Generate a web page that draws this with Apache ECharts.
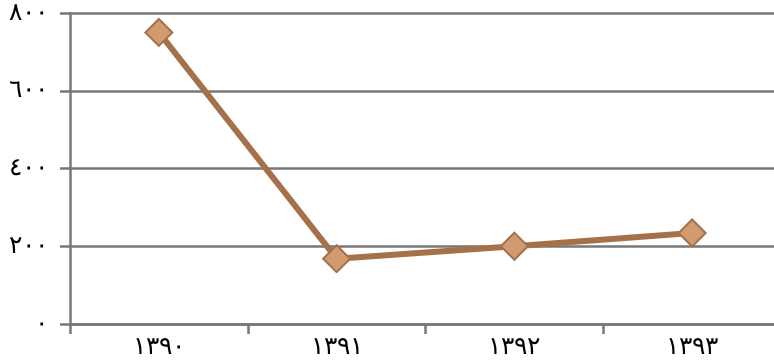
<!DOCTYPE html>
<html>
<head>
<meta charset="utf-8">
<script src="https://cdn.jsdelivr.net/npm/echarts@6/dist/echarts.min.js"></script>
<style>
html, body { margin: 0; padding: 0; background: #fff; overflow: hidden; }
#container { width: 781px; height: 364px; }
</style>
</head>
<body>
<div id="container"></div>
<script>
// سال‌ها و مقادیر
var years = ['١٣٩٠', '١٣٩١', '١٣٩٢', '١٣٩٣'];
var values = [750, 168, 200, 234];
var yTicks = ['٠', '٢٠٠', '٤٠٠', '٦٠٠', '٨٠٠'];

var dom = document.getElementById('container');
var myChart = echarts.init(dom);

var option = {
    animation: false,
    grid: { left: 70, right: 0, top: 13, bottom: 40, containLabel: false },
    xAxis: {
        type: 'category',
        data: years,
        boundaryGap: true,
        axisLine: { lineStyle: { color: '#777', width: 2.5 } },
        axisTick: { show: true, length: 10, lineStyle: { color: '#777', width: 2.5 } },
        axisLabel: { color: '#000', fontSize: 25, fontFamily: 'DejaVu Serif', margin: 11 }
    },
    yAxis: {
        type: 'value',
        min: 0,
        max: 800,
        interval: 200,
        axisLine: { show: true, lineStyle: { color: '#777', width: 2.5 } },
        axisTick: { show: true, length: 10, lineStyle: { color: '#777', width: 2.5 } },
        splitLine: { lineStyle: { color: '#777', width: 2.5 } },
        axisLabel: {
            color: '#000', fontSize: 25, fontFamily: 'DejaVu Serif', margin: 22,
            formatter: function (v) { return yTicks[v / 200]; }
        }
    },
    series: [{
        type: 'line',
        data: values,
        symbol: 'diamond',
        symbolSize: 27,
        lineStyle: { color: '#a5714b', width: 6 },
        itemStyle: { color: '#d29a6f', borderColor: '#a5714b', borderWidth: 2 }
    }]
};

myChart.setOption(option);
</script>
</body>
</html>
